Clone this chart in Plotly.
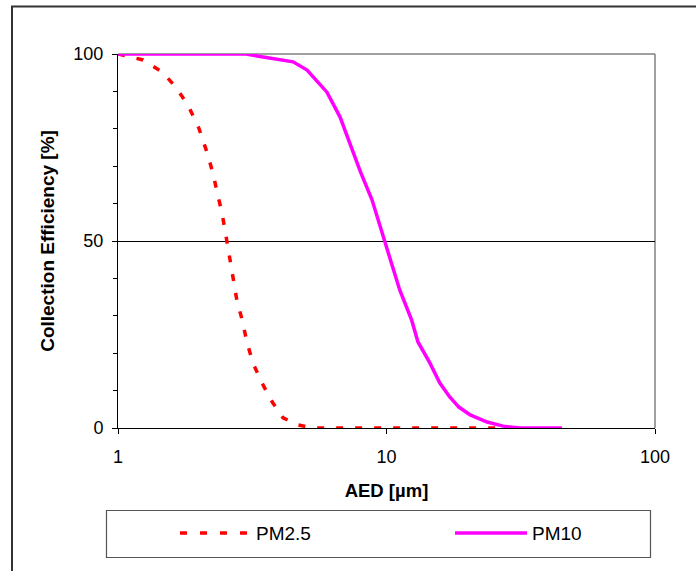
import plotly.graph_objects as go

# ---- data ----
pm25_aed = [1.0, 1.24, 1.46, 1.64, 1.82, 2.0, 2.15, 2.26, 2.34, 2.44, 2.53, 2.61, 2.68,
            2.77, 2.9, 3.02, 3.18, 3.44, 3.75, 4.12, 4.7, 5.3, 6.0, 7.0, 8.0, 9.0, 10.0,
            11.0, 12.0, 13.0, 14.0, 15.0, 16.0, 18.0, 20.0, 22.0, 25.0, 28.0, 31.4]
pm25_eff = [100, 98.4, 95.2, 91.2, 86.4, 80.2, 73.5, 68, 63, 57.5, 51, 45.4, 40,
            34.2, 28.9, 23, 17.4, 12, 7, 2.7, 0.8, 0, 0, 0, 0, 0, 0,
            0, 0, 0, 0, 0, 0, 0, 0, 0, 0, 0, 0]

pm10_aed = [1.0, 2.0, 3.0, 3.47, 4.49, 5.06, 6.0, 6.71, 7.31, 8.0, 8.83, 9.87, 10.5,
            11.2, 12.4, 13.1, 14.5, 15.8, 17.2, 18.6, 20.5, 23.7, 27.2, 31.4, 45.0]
pm10_eff = [100, 100, 100, 99.2, 97.9, 95.7, 89.8, 83.2, 76, 68.5, 61, 50, 44,
            36.9, 28.9, 23, 17.4, 12, 8.3, 5.6, 3.5, 1.6, 0.5, 0, 0]

series_names = ["PM2.5", "PM10"]
x_ticks = [1, 10, 100]
y_ticks = [0, 50, 100]

# ---- layout geometry (pixels of the 696x571 canvas) ----
W, H = 696, 571
L, R, T, B = 118, 655, 54, 428


def px(p):
    return (p - L) / (R - L)


def py(p):
    return (B - p) / (B - T)


FONT = "Liberation Sans, Arial, sans-serif"
RED = "#FF0000"
MAG = "#FF00FF"

fig = go.Figure()
fig.add_trace(go.Scatter(x=pm25_aed, y=pm25_eff, mode="lines", name=series_names[0],
                         line=dict(color=RED, width=3.5, dash="7px,12px"),
                         showlegend=False))
fig.add_trace(go.Scatter(x=pm10_aed, y=pm10_eff, mode="lines", name=series_names[1],
                         line=dict(color=MAG, width=3.5),
                         showlegend=False))

shapes = [
    # plot area top / right border (grey)
    dict(type="line", xref="paper", yref="paper", x0=0, x1=1, y0=1, y1=1,
         line=dict(color="#808080", width=1.5), layer="between"),
    dict(type="line", xref="paper", yref="paper", x0=1, x1=1, y0=0, y1=1,
         line=dict(color="#808080", width=1.5), layer="between"),
    # outer chart border
    dict(type="rect", xref="paper", yref="paper",
         x0=px(12), x1=px(W + 10), y0=py(H + 10), y1=py(6.5),
         line=dict(color="#333333", width=2), layer="below"),
    # legend box
    dict(type="rect", xref="paper", yref="paper",
         x0=px(106.5), x1=px(650.5), y0=py(557.5), y1=py(510.5),
         line=dict(color="#555555", width=1.2), fillcolor="rgba(0,0,0,0)"),
    # legend samples
    dict(type="line", xref="paper", yref="paper", x0=px(180), x1=px(251),
         y0=py(533), y1=py(533), line=dict(color=RED, width=3.5, dash="7px,13px")),
    dict(type="line", xref="paper", yref="paper", x0=px(455), x1=px(527),
         y0=py(533), y1=py(533), line=dict(color=MAG, width=3.5)),
]

annotations = [
    dict(text=series_names[0], xref="paper", yref="paper", x=px(254), y=py(533),
         xanchor="left", yanchor="middle", showarrow=False,
         font=dict(family=FONT, size=19, color="black")),
    dict(text=series_names[1], xref="paper", yref="paper", x=px(530), y=py(533),
         xanchor="left", yanchor="middle", showarrow=False,
         font=dict(family=FONT, size=19, color="black")),
]

fig.update_layout(
    width=W, height=H,
    margin=dict(l=L, r=W - R, t=T, b=H - B, pad=0),
    paper_bgcolor="white", plot_bgcolor="white",
    font=dict(family=FONT, size=18, color="black"),
    shapes=shapes, annotations=annotations,
    showlegend=False,
)

fig.update_xaxes(
    type="log", range=[0, 2], tickvals=x_ticks, ticktext=[str(v) for v in x_ticks],
    ticks="outside", ticklen=5, tickcolor="black", tickwidth=1,
    ticklabelstandoff=7,
    showline=True, linecolor="black", linewidth=1,
    showgrid=False, zeroline=False,
    tickfont=dict(family=FONT, size=18),
    title=dict(text="<b>AED [µm]</b>", font=dict(family=FONT, size=18.5), standoff=18),
)

fig.update_yaxes(
    range=[0, 100], tickvals=y_ticks,
    ticks="outside", ticklen=5, tickcolor="black", tickwidth=1,
    ticklabelstandoff=5,
    minor=dict(dtick=10, ticks="outside", ticklen=4, tickcolor="black", showgrid=False),
    showline=True, linecolor="black", linewidth=1,
    showgrid=True, gridcolor="black", gridwidth=1, zeroline=False,
    tickfont=dict(family=FONT, size=18),
    title=dict(text="<b>Collection Efficiency [%]</b>", font=dict(family=FONT, size=19),
               standoff=13),
)

fig.write_html("out.html")
